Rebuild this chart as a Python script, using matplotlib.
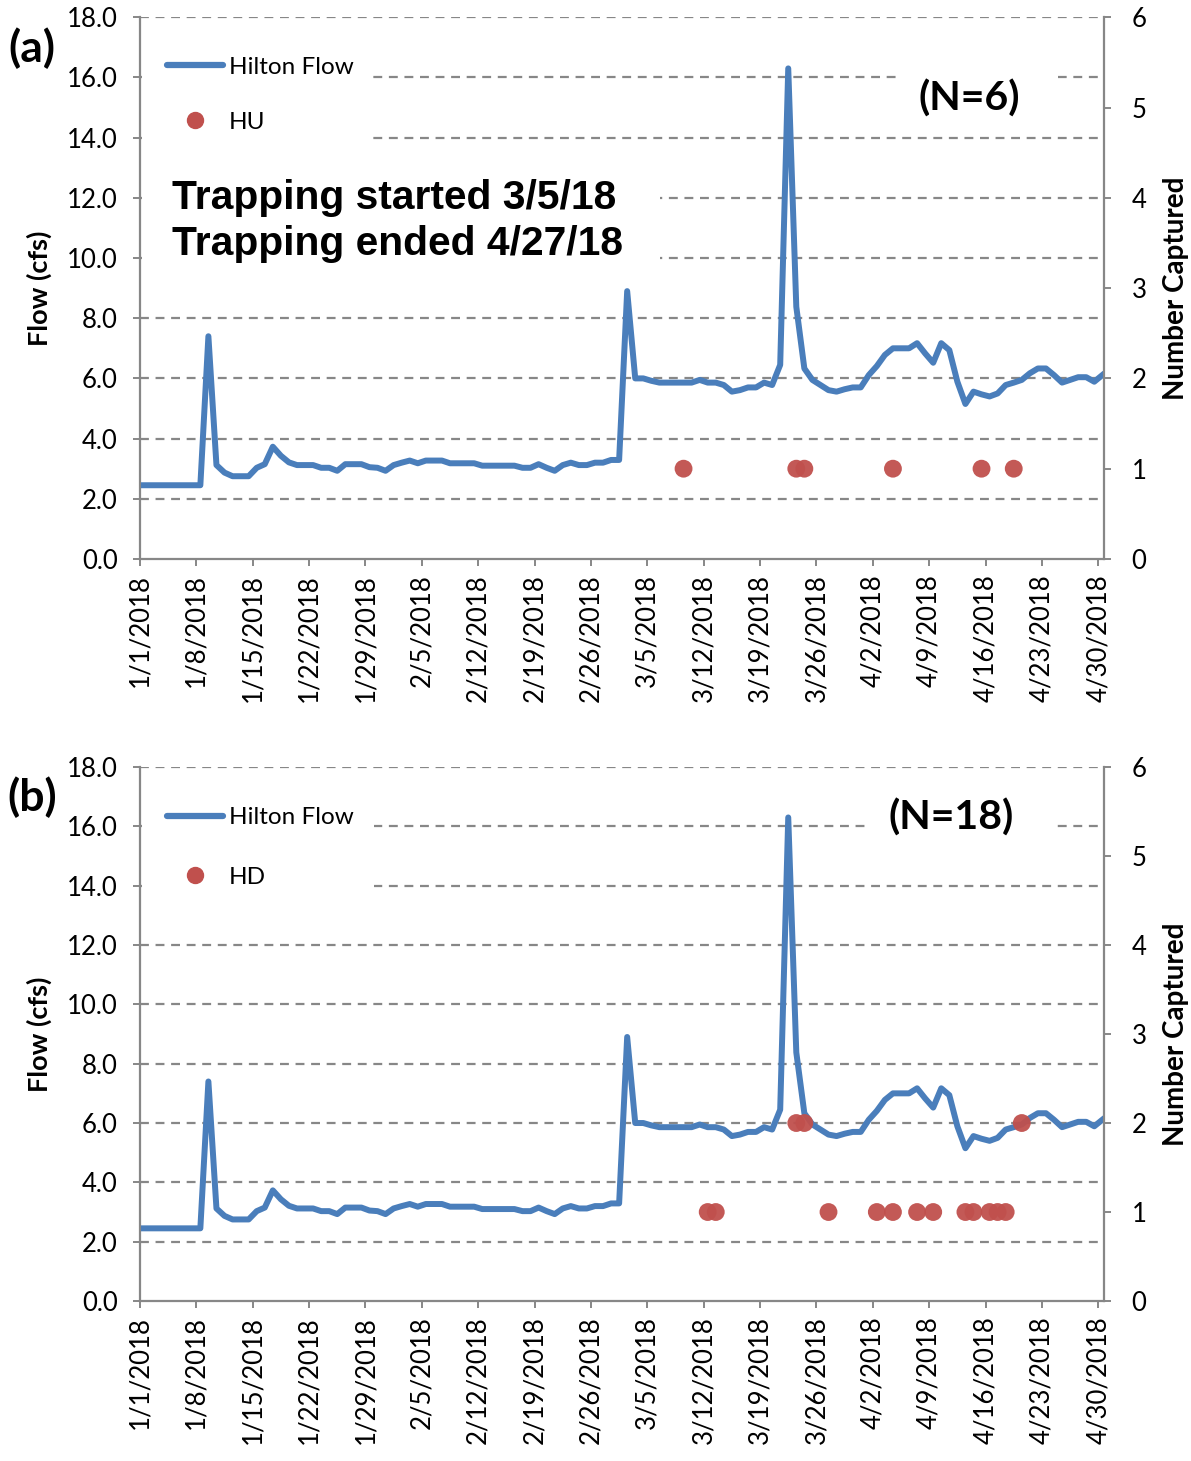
import numpy as np
import matplotlib
matplotlib.use("Agg")
import matplotlib.pyplot as plt
from matplotlib.lines import Line2D
from matplotlib.patches import Rectangle

plt.rcParams['font.family'] = ['Lato', 'DejaVu Sans']

# Daily Hilton flow (cfs), 1/1/2018 - 4/30/2018
flow = [2.45, 2.45, 2.45, 2.45, 2.45, 2.45, 2.45, 2.45, 7.4, 3.12,
        2.87, 2.75, 2.75, 2.75, 3.03, 3.15, 3.73, 3.43, 3.21, 3.12,
        3.12, 3.12, 3.03, 3.03, 2.93, 3.15, 3.15, 3.15, 3.05, 3.03,
        2.93, 3.12, 3.2, 3.27, 3.18, 3.27, 3.27, 3.27, 3.18, 3.18,
        3.18, 3.18, 3.1, 3.1, 3.1, 3.1, 3.1, 3.03, 3.03, 3.15,
        3.03, 2.93, 3.12, 3.2, 3.12, 3.12, 3.2, 3.2, 3.29, 3.29,
        8.9, 6.0, 6.0, 5.92, 5.86, 5.86, 5.86, 5.86, 5.86, 5.95,
        5.86, 5.86, 5.78, 5.56, 5.61, 5.7, 5.7, 5.86, 5.78, 6.45,
        16.3, 8.38, 6.33, 5.95, 5.78, 5.61, 5.56, 5.64, 5.7, 5.7,
        6.11, 6.41, 6.78, 7.0, 7.0, 7.0, 7.17, 6.83, 6.52, 7.17,
        6.94, 5.89, 5.15, 5.56, 5.47, 5.4, 5.5, 5.78, 5.86, 5.95,
        6.17, 6.33, 6.33, 6.11, 5.86, 5.95, 6.04, 6.04, 5.89, 6.11]
flow_dates = np.arange('2018-01-01', '2018-05-01', dtype='datetime64[D]')

# Fish captured per day
hu_dates = ['2018-03-09', '2018-03-23', '2018-03-24', '2018-04-04',
            '2018-04-15', '2018-04-19']
hu_counts = [1, 1, 1, 1, 1, 1]
hd_dates = ['2018-03-12', '2018-03-13', '2018-03-23', '2018-03-24',
            '2018-03-27', '2018-04-02', '2018-04-04', '2018-04-07',
            '2018-04-09', '2018-04-13', '2018-04-14', '2018-04-16',
            '2018-04-17', '2018-04-18', '2018-04-20']
hd_counts = [1, 1, 2, 2, 1, 1, 1, 1, 1, 1, 1, 1, 1, 1, 2]

tick_labels = ['1/1/2018', '1/8/2018', '1/15/2018', '1/22/2018', '1/29/2018',
               '2/5/2018', '2/12/2018', '2/19/2018', '2/26/2018', '3/5/2018',
               '3/12/2018', '3/19/2018', '3/26/2018', '4/2/2018', '4/9/2018',
               '4/16/2018', '4/23/2018', '4/30/2018']

start = np.datetime64('2018-01-01')
BLUE = '#4A7EBB'
RED = '#C0504D'
GRID = '#878787'


def day_num(dates):
    # points sit in the middle of each day slot
    return (np.array(dates, dtype='datetime64[D]') - start).astype(int) + 0.5


def blank(ax, x0, y0, x1, y1):
    # white patch that hides the gridlines behind a text block
    ax.add_patch(Rectangle((x0, y0), x1 - x0, y1 - y0, transform=ax.transAxes,
                           facecolor='white', edgecolor='none', zorder=1.5))


fig = plt.figure(figsize=(11.91, 14.61), dpi=100)
ax_top = fig.add_axes([0.1175, 0.6174, 0.8094, 0.3708])
ax_bot = fig.add_axes([0.1175, 0.1095, 0.8094, 0.3655])


def draw_panel(ax, cap_dates, cap_counts, cap_name, n_text, n_pos,
               leg_anchor, leg_space):
    ax.plot(day_num(flow_dates), flow, color=BLUE, lw=4.3,
            solid_joinstyle='round', zorder=3)
    ax.set_xlim(0, 119.7)
    ax.set_ylim(0, 18)
    ax.set_yticks(np.arange(0, 18.1, 2))
    ax.set_yticklabels([f'{v:.1f}' for v in np.arange(0, 18.1, 2)])
    ax.set_xticks(np.arange(0, 120, 7))
    ax.set_xticklabels(tick_labels, rotation=90)
    for v in np.arange(2, 18.1, 2):
        ax.axhline(v, color=GRID, lw=1.6, ls=(0, (4, 3)), zorder=1)
    for s in ['left', 'bottom']:
        ax.spines[s].set_color(GRID)
        ax.spines[s].set_linewidth(1.6)
    ax.spines['top'].set_visible(False)
    ax.spines['right'].set_visible(False)
    ax.tick_params(axis='both', colors=GRID, labelcolor='black',
                   labelsize=18.5, length=5, width=1.4)
    ax.tick_params(axis='y', pad=11)
    ax.tick_params(axis='x', pad=6)
    ax.set_ylabel('Flow (cfs)', fontsize=19.5, fontweight='bold')
    ax.yaxis.set_label_coords(-0.091, 0.5)

    ax2 = ax.twinx()
    ax2.scatter(day_num(cap_dates), cap_counts, s=165, color=RED,
                edgecolors='none', alpha=0.95, zorder=4)
    ax2.set_ylim(0, 6)
    ax2.set_xlim(0, 119.7)
    ax2.set_yticks(range(0, 7))
    for s in ['top', 'left', 'bottom']:
        ax2.spines[s].set_visible(False)
    ax2.spines['right'].set_color(GRID)
    ax2.spines['right'].set_linewidth(1.6)
    ax2.tick_params(axis='y', colors=GRID, labelcolor='black',
                    labelsize=18.5, length=5, width=1.4, pad=15)
    ax2.set_ylabel('Number Captured', fontsize=20, fontweight='bold')
    ax2.yaxis.set_label_coords(1.061, 0.5)

    handles = [Line2D([], [], color=BLUE, lw=4.5, solid_capstyle='round'),
               Line2D([], [], color=RED, marker='o', ls='none', ms=11.5)]
    ax2.legend(handles, ['Hilton Flow', cap_name], loc='upper left',
               bbox_to_anchor=leg_anchor, fontsize=17.5, frameon=False,
               handlelength=2.3, handletextpad=0.25,
               labelspacing=leg_space, borderpad=0.6)

    ax.text(n_pos[0], n_pos[1], n_text, transform=ax.transAxes,
            fontsize=29.5, fontweight='bold', ha='center', va='center',
            zorder=5)
    return ax2


draw_panel(ax_top, hu_dates, hu_counts, 'HU', '(N=6)', (0.86, 0.849),
           (0.0, 0.976), 1.39)
draw_panel(ax_bot, hd_dates, hd_counts, 'HD', '(N=18)', (0.841, 0.906),
           (0.0, 0.975), 1.59)

# white areas behind legends and notes
blank(ax_top, 0.002, 0.755, 0.239, 0.949)
blank(ax_top, 0.788, 0.801, 0.952, 0.903)
blank(ax_top, 0.002, 0.524, 0.539, 0.718)
blank(ax_bot, 0.002, 0.732, 0.243, 0.948)
blank(ax_bot, 0.755, 0.845, 0.947, 0.938)

ax_top.text(0.033, 0.624, 'Trapping started 3/5/18\nTrapping ended 4/27/18',
            transform=ax_top.transAxes, fontsize=29.3, fontweight='bold',
            family='Liberation Sans', ha='left', va='center',
            linespacing=1.25, zorder=5)

fig.text(0.027, 0.967, '(a)', fontsize=32, fontweight='bold',
         ha='center', va='center')
fig.text(0.027, 0.4545, '(b)', fontsize=32, fontweight='bold',
         ha='center', va='center')

fig.savefig('out.png', dpi=100)
